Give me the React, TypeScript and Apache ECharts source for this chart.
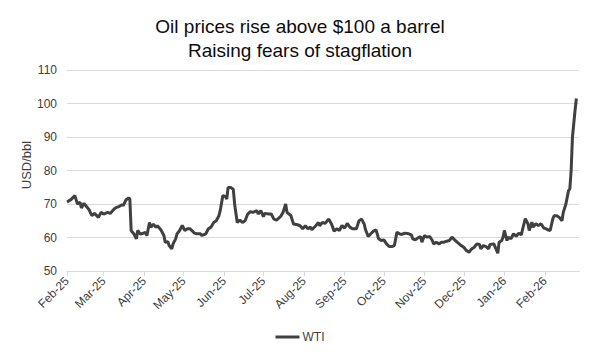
import React, { useEffect, useRef } from "react";
import * as echarts from "echarts";

const titleLines = ["Oil prices rise above $100 a barrel", "Raising fears of stagflation"];
const yAxisName = "USD/bbl";
const seriesName = "WTI";
const axisStart = "2025-02-01";
const axisEnd = "2026-02-27";
const monthNames = ["Jan", "Feb", "Mar", "Apr", "May", "Jun", "Jul", "Aug", "Sep", "Oct", "Nov", "Dec"];
const yTicks = { min: 50, max: 110, step: 10 };

const obsDates = [
  "2025-02-01", "2025-02-04", "2025-02-07", "2025-02-09", "2025-02-11", "2025-02-12", "2025-02-14", "2025-02-16",
  "2025-02-18", "2025-02-20", "2025-02-22", "2025-02-25", "2025-02-27",
  "2025-03-01", "2025-03-04", "2025-03-06", "2025-03-09", "2025-03-11", "2025-03-13", "2025-03-15", "2025-03-16",
  "2025-03-18", "2025-03-20", "2025-03-21", "2025-03-22", "2025-03-24", "2025-03-26", "2025-03-27", "2025-03-29",
  "2025-04-02", "2025-04-03", "2025-04-05", "2025-04-06", "2025-04-08", "2025-04-10", "2025-04-11", "2025-04-13",
  "2025-04-14", "2025-04-16", "2025-04-17", "2025-04-19", "2025-04-20", "2025-04-22", "2025-04-23", "2025-04-25",
  "2025-04-26", "2025-04-28", "2025-04-30",
  "2025-05-02", "2025-05-04", "2025-05-06", "2025-05-09", "2025-05-11", "2025-05-14", "2025-05-15", "2025-05-18",
  "2025-05-20", "2025-05-22", "2025-05-24", "2025-05-26", "2025-05-28", "2025-05-29", "2025-05-31",
  "2025-06-02", "2025-06-03", "2025-06-04", "2025-06-06", "2025-06-08", "2025-06-09", "2025-06-11", "2025-06-13",
  "2025-06-15", "2025-06-17", "2025-06-19", "2025-06-21", "2025-06-23", "2025-06-26", "2025-06-27", "2025-06-29",
  "2025-07-01", "2025-07-02", "2025-07-05", "2025-07-07", "2025-07-09", "2025-07-11", "2025-07-14", "2025-07-16",
  "2025-07-18", "2025-07-19", "2025-07-22", "2025-07-24", "2025-07-27", "2025-07-29", "2025-07-31",
  "2025-08-02", "2025-08-04", "2025-08-06", "2025-08-07", "2025-08-10", "2025-08-12", "2025-08-13", "2025-08-15",
  "2025-08-17", "2025-08-20", "2025-08-22", "2025-08-24", "2025-08-26", "2025-08-28", "2025-08-30",
  "2025-09-01", "2025-09-03", "2025-09-05", "2025-09-07", "2025-09-10", "2025-09-12", "2025-09-14", "2025-09-16",
  "2025-09-17", "2025-09-19", "2025-09-21", "2025-09-23", "2025-09-25", "2025-09-27", "2025-09-29",
  "2025-10-01", "2025-10-03", "2025-10-05", "2025-10-07", "2025-10-09", "2025-10-11", "2025-10-12", "2025-10-14",
  "2025-10-16", "2025-10-17", "2025-10-20", "2025-10-22", "2025-10-23", "2025-10-25", "2025-10-27", "2025-10-29",
  "2025-10-30",
  "2025-11-01", "2025-11-03", "2025-11-05", "2025-11-07", "2025-11-08", "2025-11-10", "2025-11-12", "2025-11-14",
  "2025-11-16", "2025-11-18", "2025-11-20", "2025-11-22", "2025-11-24", "2025-11-26", "2025-11-29",
  "2025-12-01", "2025-12-03", "2025-12-05", "2025-12-07", "2025-12-09", "2025-12-11", "2025-12-13", "2025-12-14",
  "2025-12-16", "2025-12-18", "2025-12-20", "2025-12-21", "2025-12-24", "2025-12-25", "2025-12-27", "2025-12-28",
  "2025-12-30", "2025-12-31",
  "2026-01-01", "2026-01-03", "2026-01-04", "2026-01-06", "2026-01-08", "2026-01-10", "2026-01-12", "2026-01-14",
  "2026-01-15", "2026-01-17", "2026-01-19", "2026-01-20", "2026-01-22", "2026-01-23", "2026-01-25", "2026-01-27",
  "2026-01-29", "2026-01-31",
  "2026-02-02", "2026-02-03", "2026-02-05", "2026-02-07", "2026-02-08", "2026-02-10", "2026-02-12", "2026-02-14",
  "2026-02-15", "2026-02-17", "2026-02-19", "2026-02-20", "2026-02-21", "2026-02-22", "2026-02-23", "2026-02-24",
  "2026-02-25",
];

const wti = [
  70.6, 71.3, 72.5, 70.0, 70.5, 68.8, 70.2, 69.2,
  68.2, 66.5, 67.2, 66.0, 67.5,
  67.0, 67.5, 67.2, 68.5, 69.0, 69.3, 69.8, 69.5,
  71.2, 71.8, 71.5, 62.0, 61.1, 59.6, 62.1, 61.0,
  61.5, 60.5, 64.5, 63.0, 64.0, 63.0, 63.5, 62.6,
  62.1, 60.6, 58.6, 58.7, 57.6, 56.6, 58.1, 59.6,
  61.1, 62.1, 63.6,
  62.1, 62.6, 62.6, 61.4, 61.1, 61.1, 60.6, 61.1,
  62.6, 63.1, 64.5, 65.0, 66.5, 68.0, 72.5,
  72.2, 71.5, 74.9, 74.9, 74.4, 70.0, 64.5, 65.2,
  64.5, 65.0, 67.0, 67.7, 67.5, 68.0, 67.0, 68.0,
  66.2, 67.2, 67.0, 67.0, 65.5, 65.2, 66.2, 67.5,
  70.0, 67.5, 66.5, 64.0, 63.8, 63.5, 62.6,
  63.5, 62.6, 63.1, 62.3, 63.5, 64.5, 63.5, 64.5,
  64.2, 65.5, 64.0, 61.9, 62.6, 62.1, 63.6,
  62.8, 64.2, 63.1, 62.6, 62.6, 65.0, 65.5, 64.0,
  62.3, 60.3, 61.1, 61.9, 62.3, 59.6, 59.1,
  59.3, 58.1, 57.3, 57.3, 57.6, 61.6, 61.3, 60.9,
  61.1, 61.3, 61.1, 60.8, 59.6, 59.3, 59.9, 60.3,
  58.6,
  60.6, 60.1, 60.3, 59.1, 58.1, 58.6, 58.1, 58.6,
  58.6, 58.9, 59.1, 60.1, 59.3, 58.6, 57.6,
  57.1, 56.1, 55.6, 56.6, 57.1, 58.1, 57.9, 56.6,
  57.6, 57.3, 56.6, 57.9, 58.1, 57.1, 55.3, 58.6,
  59.1, 60.1,
  62.1, 59.1, 60.1, 59.6, 61.1, 60.4, 61.3, 60.8,
  62.6, 65.6, 64.1, 62.1, 64.6, 63.1, 64.1, 63.6,
  64.1, 62.9,
  62.6, 62.3, 62.1, 65.6, 66.5, 66.5, 66.0, 65.0,
  67.5, 70.0, 74.0, 74.5, 80.0, 90.0, 94.0, 98.0,
  101.5,
];

function buildCalendar(start: string, end: string): string[] {
  const out: string[] = [];
  const d = new Date(start + "T00:00:00Z");
  const e = new Date(end + "T00:00:00Z");
  while (d.getTime() <= e.getTime()) {
    out.push(d.toISOString().slice(0, 10));
    d.setUTCDate(d.getUTCDate() + 1);
  }
  return out;
}

const FONT = "Liberation Sans, Arial, sans-serif";

export default function App() {
  const ref = useRef<HTMLDivElement>(null);

  useEffect(() => {
    document.body.style.margin = "0";
    if (!ref.current) return;
    const chart = echarts.init(ref.current, null, { renderer: "svg" });

    const categories = buildCalendar(axisStart, axisEnd);
    const lookup = new Map<string, number>();
    obsDates.forEach((d, i) => lookup.set(d, wti[i]));
    const seriesData = categories.map((c) => (lookup.has(c) ? lookup.get(c)! : null));
    const isMonthStart = (_i: number, v: string) => v.slice(8, 10) === "01";

    chart.setOption({
      animation: false,
      backgroundColor: "#ffffff",
      title: {
        text: titleLines.join("\n"),
        left: "center",
        top: 9,
        textStyle: {
          fontFamily: FONT,
          fontSize: 19,
          fontWeight: "normal",
          color: "#0d0d0d",
          lineHeight: 24,
        },
      },
      legend: {
        data: [seriesName],
        left: "center",
        top: 326,
        icon: "rect",
        itemWidth: 24,
        itemHeight: 3,
        itemGap: 4,
        textStyle: { fontFamily: FONT, fontSize: 12, color: "#404040", padding: [0, 0, 0, -2] },
      },
      grid: { left: 67, right: 21, top: 70, bottom: 83, containLabel: false },
      graphic: [
        {
          type: "text",
          x: 26,
          y: 165,
          rotation: Math.PI / 2,
          style: {
            text: yAxisName,
            fontFamily: FONT,
            fontSize: 13,
            fill: "#404040",
            align: "center",
            verticalAlign: "middle",
          },
        },
      ],
      xAxis: {
        type: "category",
        data: categories,
        boundaryGap: false,
        axisLine: { show: true, lineStyle: { color: "#d9d9d9", width: 1 } },
        axisTick: { show: true, interval: isMonthStart, length: 5, lineStyle: { color: "#d9d9d9" } },
        axisLabel: {
          interval: isMonthStart,
          rotate: 45,
          margin: 8,
          fontFamily: FONT,
          fontSize: 12,
          color: "#404040",
          formatter: (v: string) => monthNames[parseInt(v.slice(5, 7), 10) - 1] + "-" + v.slice(2, 4),
        },
        splitLine: { show: false },
      },
      yAxis: {
        type: "value",
        min: yTicks.min,
        max: yTicks.max,
        interval: yTicks.step,
        axisLine: { show: false },
        axisTick: { show: false },
        axisLabel: { fontFamily: FONT, fontSize: 12, color: "#404040", margin: 10 },
        splitLine: { lineStyle: { color: "#d9d9d9", width: 1 } },
      },
      series: [
        {
          name: seriesName,
          type: "line",
          data: seriesData,
          connectNulls: true,
          showSymbol: false,
          symbol: "none",
          lineStyle: { color: "#404040", width: 3 },
          itemStyle: { color: "#404040" },
        },
      ],
    });

    return () => chart.dispose();
  }, []);

  return <div ref={ref} style={{ width: 600, height: 354 }} />;
}
